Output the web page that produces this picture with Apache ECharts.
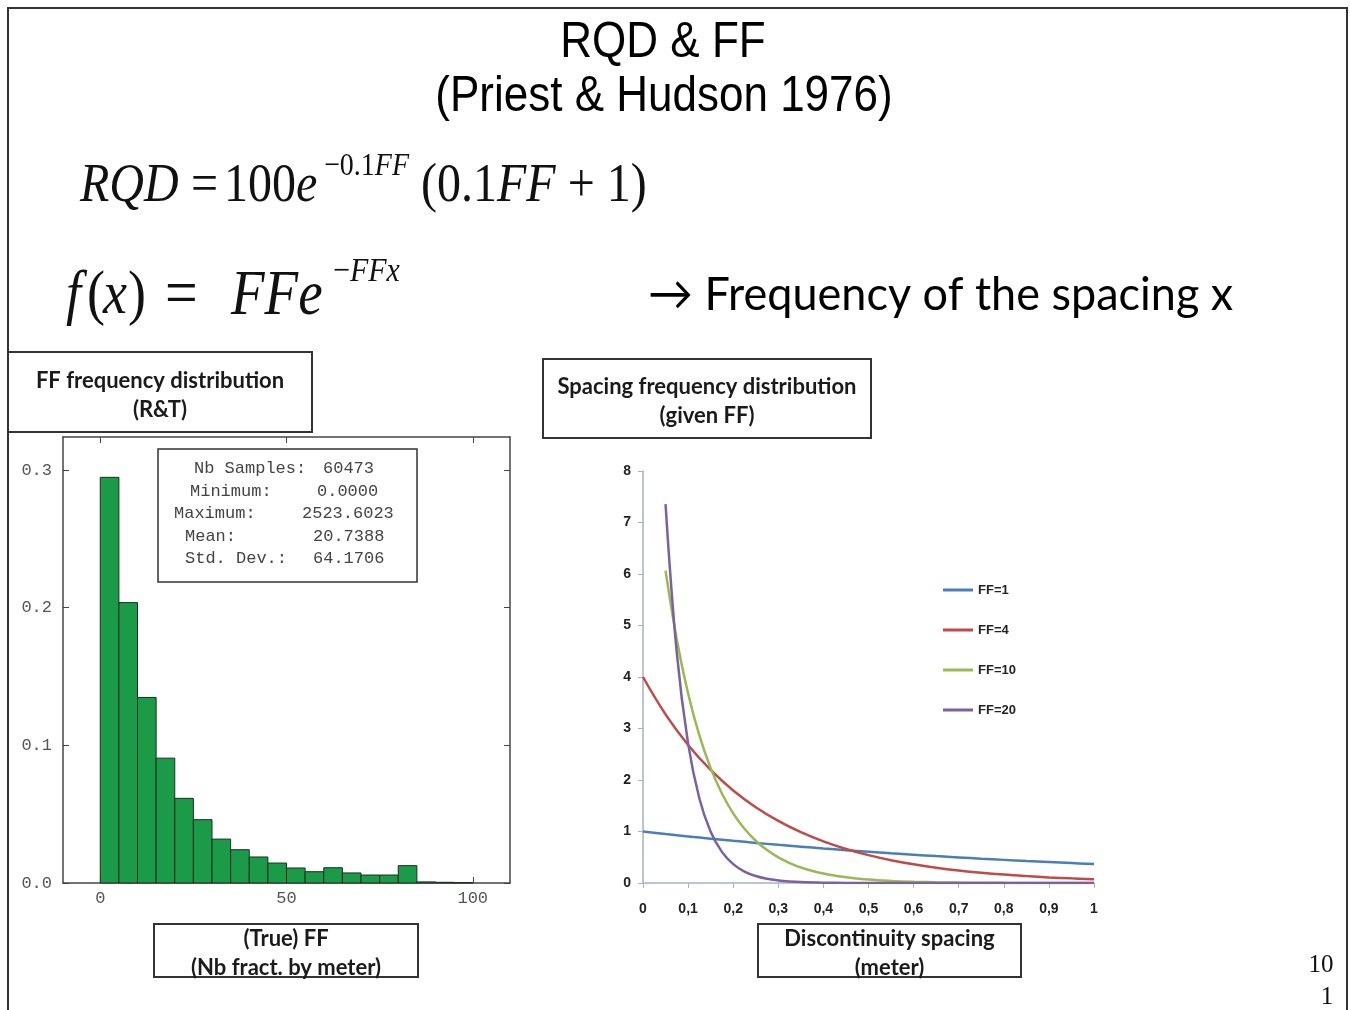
<!DOCTYPE html>
<html>
<head>
<meta charset="utf-8">
<script src="https://cdn.jsdelivr.net/npm/echarts@6/dist/echarts.min.js"></script>
<style>
html,body{margin:0;padding:0;background:#fff;}
#chart{width:1350px;height:1010px;}
</style>
</head>
<body>
<div id="chart"></div>
<script>
// ---------- Histogram data (FF frequency distribution, R&T) ----------
const binEdges = [0,5,10,15,20,25,30,35,40,45,50,55,60,65,70,75,80,85,90,95,100];
const binFreq  = [0.2947,0.2037,0.1348,0.0907,0.0615,0.0460,0.0319,0.0242,0.0189,0.0145,
                  0.0109,0.0082,0.0111,0.0073,0.0058,0.0058,0.0126,0.0008,0.0005,0.0003];
const histXTicks = [0,50,100];
const histYTicks = [0,0.1,0.2,0.3];
const statsLabels = ['Nb Samples:','Minimum:','Maximum:','Mean:','Std. Dev.:'];
const statsValues = ['60473','0.0000','2523.6023','20.7388','64.1706'];

// ---------- Spacing frequency distribution (given FF) ----------
const spacingX = [0,0.05,0.1,0.15,0.2,0.25,0.3,0.35,0.4,0.45,0.5,0.55,0.6,0.65,0.7,0.75,0.8,0.85,0.9,0.95,1];
const ff1  = [1.000,0.951,0.905,0.861,0.819,0.779,0.741,0.705,0.670,0.638,0.607,0.577,0.549,0.522,0.497,0.472,0.449,0.427,0.407,0.387,0.368];
const ff4  = [4.000,3.275,2.681,2.195,1.797,1.472,1.205,0.986,0.808,0.661,0.541,0.443,0.363,0.297,0.243,0.199,0.163,0.134,0.109,0.090,0.073];
// steep curves read at a finer spacing
const spacingXSteep = [0.05,0.075,0.1,0.125,0.15,0.175,0.2,0.225,0.25,0.275,0.3,0.325,0.35,0.4,0.45,0.5,0.55,0.6,0.65,0.7,0.75,0.8,0.85,0.9,0.95,1];
const ff10 = [6.065,4.724,3.679,2.865,2.231,1.738,1.353,1.054,0.821,0.639,0.498,0.388,0.302,0.183,0.111,0.067,0.041,0.025,0.015,0.009,0.006,0.003,0.002,0.001,0.001,0.000];
const ff20 = [7.358,4.463,2.707,1.642,0.996,0.604,0.366,0.222,0.135,0.082,0.050,0.030,0.018,0.007,0.002,0.001,0.000,0.000,0.000,0.000,0.000,0.000,0.000,0.000,0.000,0.000];
const seriesNames = ['FF=1','FF=4','FF=10','FF=20'];
const seriesColors = ['#4A7EBB','#BE4B48','#98B954','#7D60A0'];

function pairs(xs, ys){ return ys.map((y,i)=>[xs[i], y]); }
const histData = binFreq.map((v,i)=>[binEdges[i], binEdges[i+1], v]);
const lineData = [pairs(spacingX,ff1), pairs(spacingX,ff4), pairs(spacingXSteep,ff10), pairs(spacingXSteep,ff20)];

const chart = echarts.init(document.getElementById('chart'));

const serif = 'Liberation Serif, Times New Roman, serif';
const mono = 'Liberation Mono, Courier New, monospace';
const boxFont = 'Lato, Open Sans, sans-serif';

function txt(x,y,text,opt){
  return Object.assign({type:'text', x:x, y:y, silent:true,
    style:Object.assign({text:text, fill:'#111', textAlign:'left', textVerticalAlign:'middle'}, opt||{})});
}
function mathFormula(){
  const els = [];
  const sy = 1.15;
  const rich = (F)=>({
    n:{font:F+'px '+serif, fill:'#111'},
    i:{font:'italic '+F+'px '+serif, fill:'#111'}
  });
  const base = (x,y,t,F)=>({type:'text', x:x, y:y, scaleY:sy, silent:true,
    style:{text:t, rich:rich(F), font:F+'px '+serif, fill:'#111', textAlign:'left', textVerticalAlign:'middle'}});
  // RQD = 100 e^{-0.1FF} (0.1FF + 1)
  els.push(base(80,186,'{i|RQD}',48));
  els.push(base(191,186,'{n|=}',48));
  els.push(base(224,186,'{n|100}{i|e}',48));
  els.push(base(324,167,'{n|\u22120.1}{i|FF}',28));
  els.push(base(421,186,'{n|(0.1}{i|FF}{n| + 1)}',48));
  // f(x) = FF e^{-FFx}
  els.push(base(66,297,'{i|f}',54));
  els.push(base(87,297,'{n|(}',54));
  els.push(base(103,297,'{i|x}',54));
  els.push(base(128,297,'{n|)}',54));
  els.push(base(165,297,'{n|=}',58));
  els.push(base(231,297,'{i|FFe}',55));
  els.push(base(333,272,'{n|\u2212}{i|FFx}',30));
  return els;
}
function labelBox(x,y,w,h,lines,lineYs){
  const g = [{type:'rect', silent:true, shape:{x:x,y:y,width:w,height:h}, style:{fill:'#fff', stroke:'#333', lineWidth:2}}];
  lines.forEach((t,i)=>{
    g.push(txt(x+w/2, lineYs[i], t, {font:'bold 22px '+boxFont, textAlign:'center', fill:'#1a1a1a'}));
  });
  return g;
}

let graphics = [];
graphics.push({type:'rect', silent:true, shape:{x:8,y:8,width:1339,height:1020}, style:{fill:'none', stroke:'#333', lineWidth:2}});
graphics.push({type:'text', x:663, y:43, scaleY:1.12, silent:true, style:{text:'RQD & FF', font:'44px Liberation Sans, Arial, sans-serif', fill:'#000', textAlign:'center', textVerticalAlign:'middle'}});
graphics.push({type:'text', x:664, y:97, scaleY:1.12, silent:true, style:{text:'(Priest & Hudson 1976)', font:'44px Liberation Sans, Arial, sans-serif', fill:'#000', textAlign:'center', textVerticalAlign:'middle'}});
graphics = graphics.concat(mathFormula());
graphics.push({type:'text', x:648, y:295, scaleY:1.05, silent:true, style:{text:'\u2192 Frequency of the spacing x', font:'45px Lato, Open Sans, sans-serif', fill:'#000', textAlign:'left', textVerticalAlign:'middle'}});
graphics = graphics.concat(labelBox(8,352,304,80,['FF frequency distribution','(R&T)'],[381,410]));
graphics = graphics.concat(labelBox(543,359,328,79,['Spacing frequency distribution','(given FF)'],[387,416]));
graphics = graphics.concat(labelBox(154,924,264,53,['(True) FF','(Nb fract. by meter)'],[939,968]));
graphics = graphics.concat(labelBox(758,924,263,53,['Discontinuity spacing','(meter)'],[939,968]));
// stats box
graphics.push({type:'rect', silent:true, shape:{x:158,y:449,width:259,height:133}, style:{fill:'#fff', stroke:'#333', lineWidth:1.5}});
const statLX = [194,190,174,185,185];
const statVX = [323,317,302,313,313];
const statY = [468,491,513,536,558];
statsLabels.forEach((t,i)=>{
  graphics.push(txt(statLX[i], statY[i], t, {font:'17px '+mono, fill:'#444'}));
  graphics.push(txt(statVX[i], statY[i], statsValues[i], {font:'17px '+mono, fill:'#444'}));
});
// page number
graphics.push(txt(1321,965,'10',{font:'25px '+serif, textAlign:'center', fill:'#111'}));
graphics.push(txt(1327,997,'1',{font:'25px '+serif, textAlign:'center', fill:'#111'}));

const histAxisLine = {show:true, onZero:false, lineStyle:{color:'#444', width:1.5}};
const histLabel = {fontFamily:mono, fontSize:17, color:'#555'};
const rightAxisColor = '#A3B2CB';
const rightLabel = {fontFamily:'Liberation Sans, Arial, sans-serif', fontSize:14, fontWeight:'bold', color:'#222'};

const option = {
  backgroundColor:'#ffffff',
  animation:false,
  grid:[
    {left:63, top:437, width:447, height:446, containLabel:false},
    {left:643, top:471, width:451, height:412, containLabel:false}
  ],
  xAxis:[
    {gridIndex:0, type:'value', min:-10, max:110, position:'bottom',
     axisLine:histAxisLine, splitLine:{show:false},
     axisTick:{show:true, inside:true, length:6, customValues:histXTicks, lineStyle:{color:'#444'}},
     axisLabel:Object.assign({customValues:histXTicks, margin:7}, histLabel)},
    {gridIndex:0, type:'value', min:-10, max:110, position:'top',
     axisLine:histAxisLine, splitLine:{show:false},
     axisTick:{show:true, inside:true, length:6, customValues:histXTicks, lineStyle:{color:'#444'}},
     axisLabel:{show:false}},
    {gridIndex:1, type:'value', min:0, max:1, interval:0.1,
     axisLine:{show:true, onZero:false, lineStyle:{color:rightAxisColor, width:1.5}},
     axisTick:{show:true, length:5, lineStyle:{color:rightAxisColor}},
     splitLine:{show:false},
     axisLabel:Object.assign({margin:19, formatter:v=>String(Math.round(v*10)/10).replace('.',',')}, rightLabel)}
  ],
  yAxis:[
    {gridIndex:0, type:'value', min:0, max:0.324, interval:0.1, position:'left',
     axisLine:histAxisLine, splitLine:{show:false},
     axisTick:{show:true, inside:true, length:6, customValues:histYTicks, lineStyle:{color:'#444'}},
     axisLabel:Object.assign({customValues:histYTicks, margin:11, formatter:v=>v.toFixed(1)}, histLabel)},
    {gridIndex:0, type:'value', min:0, max:0.324, interval:0.1, position:'right',
     axisLine:histAxisLine, splitLine:{show:false},
     axisTick:{show:true, inside:true, length:6, customValues:histYTicks, lineStyle:{color:'#444'}},
     axisLabel:{show:false}},
    {gridIndex:1, type:'value', min:0, max:8, interval:1,
     axisLine:{show:true, onZero:false, lineStyle:{color:rightAxisColor, width:1.5}},
     axisTick:{show:true, length:5, lineStyle:{color:rightAxisColor}},
     splitLine:{show:false},
     axisLabel:Object.assign({margin:12}, rightLabel)}
  ],
  legend:{
    orient:'vertical', left:938, top:577, itemWidth:30, itemHeight:3, itemGap:24,
    icon:'rect', data:seriesNames,
    textStyle:{fontFamily:'Liberation Sans, Arial, sans-serif', fontSize:13, fontWeight:'bold', color:'#222', lineHeight:16}
  },
  series:[
    {type:'custom', name:'hist', xAxisIndex:0, yAxisIndex:0, data:histData,
     renderItem:function(params, api){
       const p0 = api.coord([api.value(0), api.value(2)]);
       const p1 = api.coord([api.value(1), 0]);
       return {type:'rect', shape:{x:p0[0], y:p0[1], width:p1[0]-p0[0], height:p1[1]-p0[1]},
               style:{fill:'#1B9A48', stroke:'#1c2e20', lineWidth:1}};
     }},
  ].concat(lineData.map((d,i)=>({
    type:'line', name:seriesNames[i], xAxisIndex:2, yAxisIndex:2,
    data:d, showSymbol:false, symbol:'none', smooth:0.4,
    lineStyle:{width:2.5, color:seriesColors[i]}, itemStyle:{color:seriesColors[i]}, z:3
  }))),
  graphic:graphics
};
chart.setOption(option);
</script>
</body>
</html>
